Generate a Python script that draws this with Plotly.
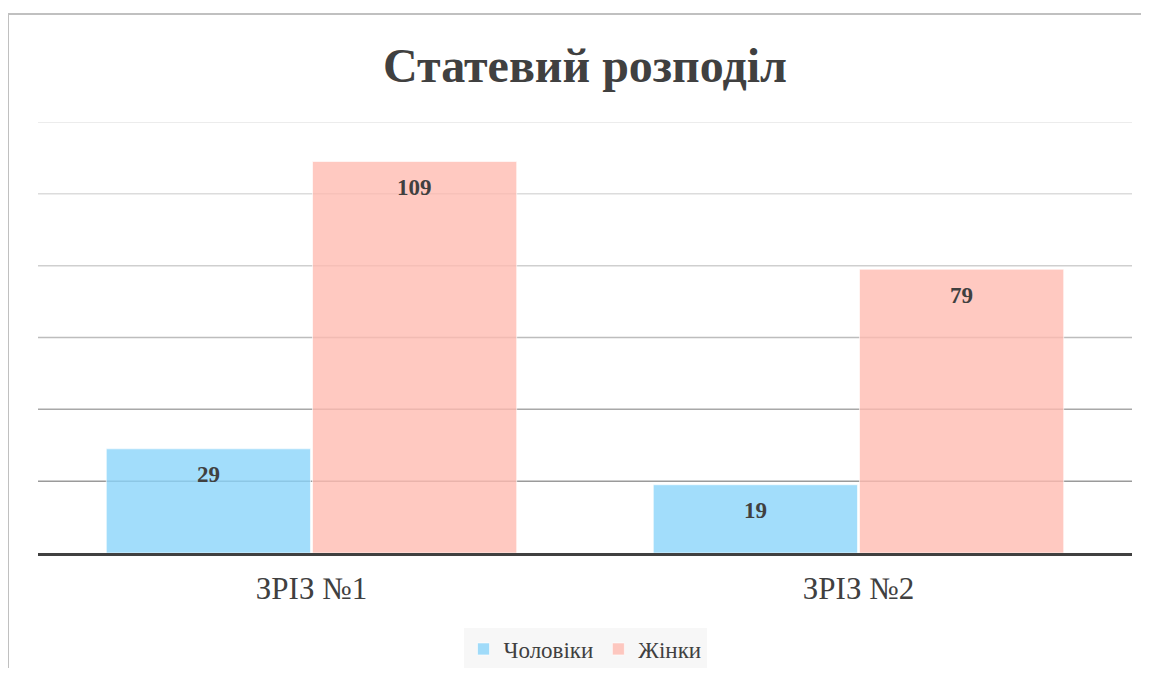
import plotly.graph_objects as go

categories = ["ЗРІЗ №1", "ЗРІЗ №2"]
men = [29, 19]
women = [109, 79]
series_names = ["Чоловіки", "Жінки"]
grid_values = [20, 40, 60, 80, 100, 120]
grid_colors = ["#9a9a9a", "#a8a8a8", "#bdbdbd", "#cfcfcf", "#dcdcdc", "#e6e6e6"]

SERIF = "Liberation Serif"
TXT = "#404040"

W, H = 1133, 660          # page adds an 8px body margin on each side
L, R, T, B = 30, 9, 114, 115
PW, PH = W - L - R, H - T - B
BARGAP = 0.246

fig = go.Figure()
series = [men, women]
colors = ["rgba(136,211,250,0.78)", "rgba(255,186,176,0.78)"]
for name, vals, col in zip(series_names, series, colors):
    fig.add_trace(go.Bar(
        x=categories, y=vals, name=name,
        marker=dict(color=col, line=dict(color="rgba(255,255,255,0.6)", width=1)),
    ))

# data labels, placed at each bar's own centre (category units) and value
half = (1 - BARGAP) / 4
for k, vals in enumerate(series):
    for j, v in enumerate(vals):
        fig.add_annotation(x=j + (k * 2 - 1) * half, y=v, xref="x", yref="y",
                           text=f"<b>{v}</b>", showarrow=False, yanchor="middle",
                           yshift=-26, font=dict(family=SERIF, size=23, color=TXT))

for v, c in zip(grid_values, grid_colors):
    fig.add_shape(type="line", xref="paper", yref="y", x0=0, x1=1, y0=v, y1=v,
                  line=dict(color=c, width=1.5), layer="below")

fig.update_layout(
    width=W, height=H,
    margin=dict(l=L, r=R, t=T, b=B, autoexpand=False),
    paper_bgcolor="white", plot_bgcolor="white",
    title=dict(text="<b>Статевий розподіл</b>", x=(L + PW / 2) / W, xanchor="center", y=1 - 57 / H,
               yanchor="middle", font=dict(family=SERIF, size=48, color=TXT)),
    barmode="group", bargap=BARGAP, bargroupgap=0.01,
    xaxis=dict(showline=True, linecolor="#404040", linewidth=3, ticks="",
               tickfont=dict(family=SERIF, size=31, color=TXT), ticklabelstandoff=6),
    yaxis=dict(range=[0, 120], showticklabels=False, showgrid=False, zeroline=False,
               showline=False),
    legend=dict(orientation="h", x=0.5, xanchor="center", y=(545 - 641) / PH, yanchor="middle",
                bgcolor="#f7f7f7", font=dict(family=SERIF, size=23, color=TXT),
                traceorder="normal"),
    showlegend=True,
)

fig.add_shape(type="rect", xref="paper", yref="paper",
              x0=(0 - L) / PW, x1=1.2, y0=-0.6, y1=1 + (T - 6) / PH,
              line=dict(color="#c0c0c0", width=2), fillcolor="rgba(0,0,0,0)", layer="below")

fig.write_html("out.html")
